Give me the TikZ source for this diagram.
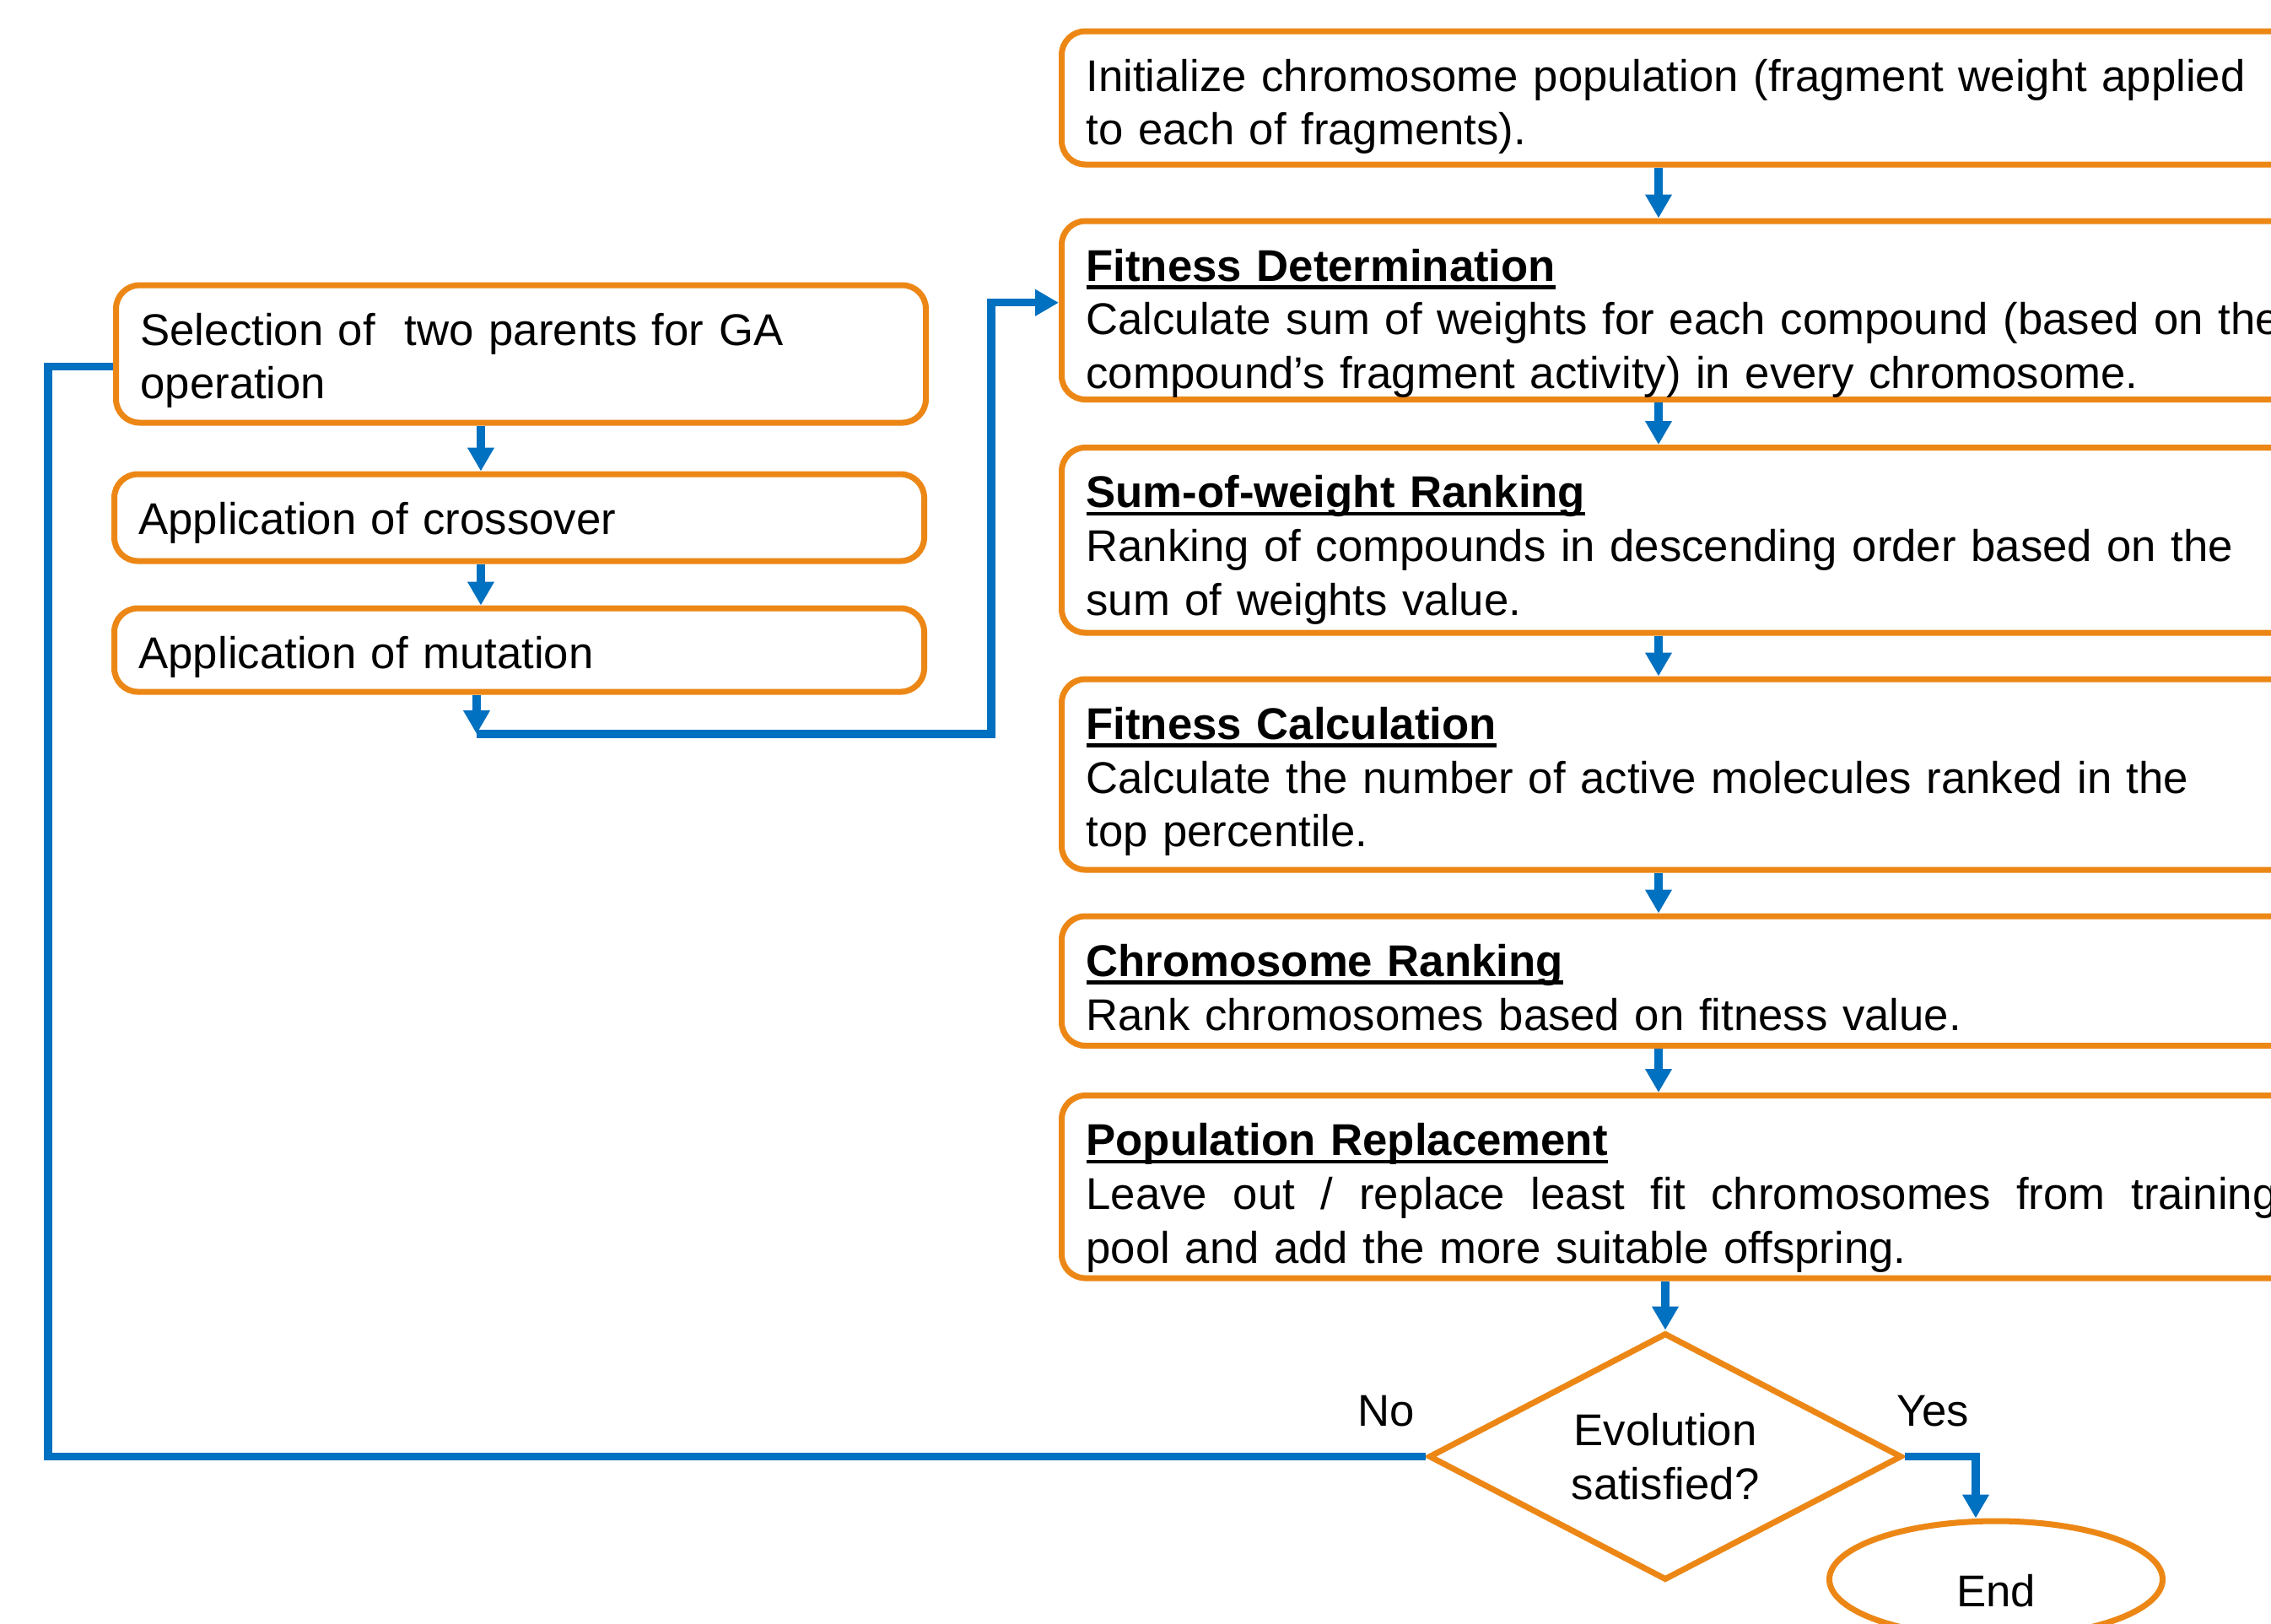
\documentclass[tikz,border=0pt]{standalone}
\usepackage{fontspec}
\setmainfont{Liberation Sans}
\usetikzlibrary{shapes.geometric,arrows.meta}

% bold heading with a thick underline
\newcommand{\ulhead}[1]{\sbox0{\bfseries #1}\rlap{\rule[-2.8pt]{\wd0}{1.3pt}}\usebox0}

\begin{document}
\begin{tikzpicture}[
    stepbox/.style={draw=gaorange, line width=2pt, rounded corners=0.28cm, fill=white,
      anchor=north west, align=left, inner xsep=0.29cm, inner ysep=0pt,
      text height=0.71cm, font=\fontsize{15}{18.2}\selectfont},
    rightbox/.style={stepbox, text width=15.5cm},
    leftbox/.style={stepbox, text width=9.02cm},
    decision/.style={diamond, aspect=1.92, draw=gaorange, line width=2pt, fill=white,
      align=center, minimum width=5.61cm, minimum height=2.93cm, inner sep=0pt,
      font=\fontsize{15}{18.2}\selectfont},
    terminal/.style={ellipse, draw=gaorange, line width=2pt, fill=white,
      minimum width=3.95cm, minimum height=1.38cm, text height=0.64cm, text depth=0pt,
      font=\fontsize{15}{18.2}\selectfont},
    flow/.style={draw=gablue, line width=2.6pt, -{Triangle[width=0.3cm,length=0.28cm]}},
    backline/.style={draw=gablue, line width=2.6pt},
    answer/.style={anchor=base, font=\fontsize{15}{18.2}\selectfont}
  ]

      % Define colors
      \definecolor{gaorange}{RGB}{236,135,22}
      \definecolor{gablue}{RGB}{0,112,192}

      % Page frame
      \useasboundingbox[fill=white] (0,0) rectangle (26.92,-19.24);
      \clip (0,0) rectangle (26.92,-19.24);

      % Columns of the arrows
      \coordinate (spine) at (19.66,0);
      \coordinate (lspine) at (5.70,0);

      % Main column
      \node[rightbox, text depth=0.87cm] (init) at (12.55,-0.335)
        {Initialize chromosome population (fragment weight applied\\
         to each of fragments).};
      \node[rightbox, text depth=1.405cm] (fitdet) at (12.55,-2.585)
        {\ulhead{Fitness Determination}\\
         Calculate sum of weights for each compound (based on the\\
         compound’s fragment activity) in every chromosome.};
      \node[rightbox, text depth=1.485cm] (sumw) at (12.55,-5.27)
        {\ulhead{Sum-of-weight Ranking}\\
         Ranking of compounds in descending order based on the\\
         sum of weights value.};
      \node[rightbox, text depth=1.55cm] (fitcalc) at (12.55,-8.015)
        {\ulhead{Fitness Calculation}\\
         Calculate the number of active molecules ranked in the\\
         top percentile.};
      \node[rightbox, text depth=0.825cm] (chromrank) at (12.55,-10.825)
        {\ulhead{Chromosome Ranking}\\
         Rank chromosomes based on fitness value.};
      \node[rightbox, text depth=1.455cm] (poprep) at (12.55,-12.95)
        {\ulhead{Population Replacement}\\
         \leavevmode\hbox to 14.12cm{Leave\hfil{} out\hfil{} /\hfil{} replace\hfil{} least\hfil{}
           fit\hfil{} chromosomes\hfil{} from\hfil{} training}\\
         pool and add the more suitable offspring.};

      % GA operations
      \node[leftbox, text depth=0.92cm] (sel) at (1.34,-3.345)
        {Selection of\ \ two parents for GA\\ operation};
      \node[leftbox, text depth=0.32cm] (cross) at (1.32,-5.585)
        {Application of crossover};
      \node[leftbox, text depth=0.28cm] (mut) at (1.32,-7.175)
        {Application of mutation};

      % Decision and end
      \node[decision] (dec) at (19.74,-17.265) {Evolution\\ satisfied?};
      \node[terminal] (end) at (23.66,-18.72) {End};

      % Connecting arrows
      \draw[flow] (init.south -| spine) -- (fitdet.north -| spine);
      \draw[flow] (fitdet.south -| spine) -- (sumw.north -| spine);
      \draw[flow] (sumw.south -| spine) -- (fitcalc.north -| spine);
      \draw[flow] (fitcalc.south -| spine) -- (chromrank.north -| spine);
      \draw[flow] (chromrank.south -| spine) -- (poprep.north -| spine);
      \draw[flow] (poprep.south -| dec.north) -- (dec.north);

      \draw[flow] (sel.south -| lspine) -- (cross.north -| lspine);
      \draw[flow] (cross.south -| lspine) -- (mut.north -| lspine);
      \coordinate (join) at (5.65,-8.70);
      \coordinate (riser) at (11.75,-8.70);
      \draw[flow] (mut.south -| join) -- (join);
      \draw[flow] (join) -- (riser) |- ([yshift=0.09cm]fitdet.west);

      % Answers
      \coordinate (back) at (0.57,-17.20);
      \draw[backline] (dec.west) -- (dec.west -| back) |- ([yshift=-0.15cm]sel.west);
      \draw[flow] (dec.east) -| ([xshift=-0.24cm]end.north);

      % Labels
      \node[answer] (no) at (16.43,-16.90) {No};
      \node[answer] (yes) at (22.91,-16.90) {Yes};

    \end{tikzpicture}
\end{document}
